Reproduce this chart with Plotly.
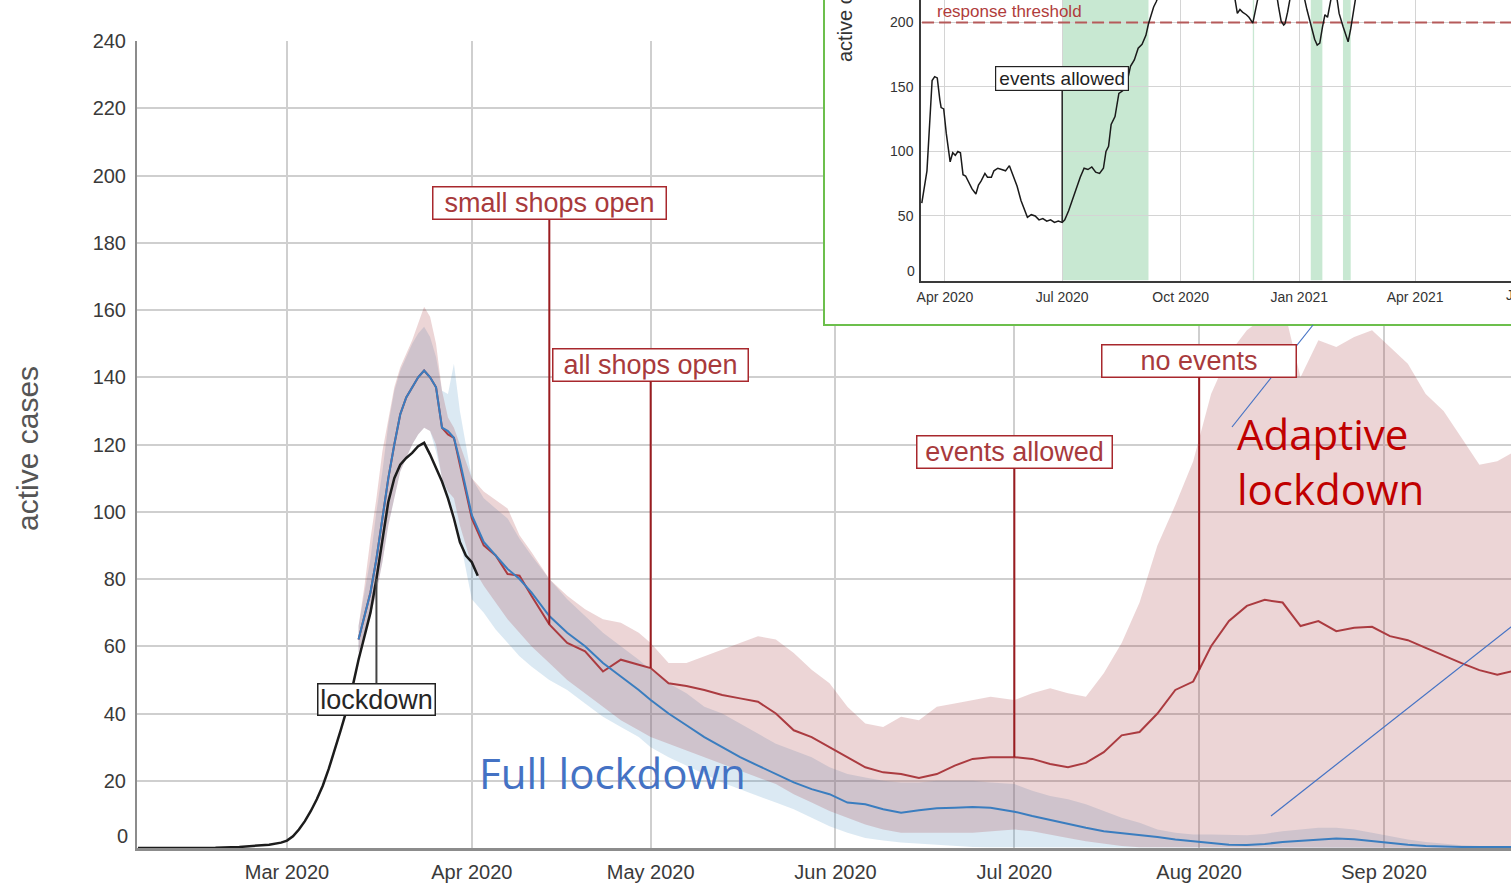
import numpy as np
import pandas as pd
import plotly.graph_objects as go

W, H = 1511, 888


def fx(px):
    return px / W


def fy(px):
    return 1 - px / H


# ---- observed active cases ----
obs_dates = ["2020-02-05", "2020-02-12", "2020-02-18", "2020-02-22", "2020-02-25", "2020-02-27", "2020-02-29"] + \
    [f"2020-03-{d:02d}" for d in range(1, 32)] + ["2020-04-01", "2020-04-02"]
obs_cases = [0, 0, 0.1, 0.3, 0.6, 1.0, 1.6,
             2.2, 3.5, 5.5, 8, 11, 14.5, 18.5, 23.5, 29, 35, 41, 48, 56, 63, 70, 80, 92, 103, 110, 114,
             116, 117.5, 119.5, 120.5, 117, 113, 109, 104, 98, 91, 87, 85, 81]

# ---- simulated scenarios (mean and band) ----
sim_dates = (
    [f"2020-03-{d:02d}" for d in range(13, 31)]
    + ["2020-04-01", "2020-04-03", "2020-04-05", "2020-04-07", "2020-04-09", "2020-04-11"]
    + ["2020-04-14", "2020-04-17", "2020-04-20", "2020-04-23", "2020-04-26", "2020-04-29"]
    + ["2020-05-01", "2020-05-04", "2020-05-07", "2020-05-10", "2020-05-13", "2020-05-16",
       "2020-05-19", "2020-05-22", "2020-05-25", "2020-05-28", "2020-05-31"]
    + ["2020-06-03", "2020-06-06", "2020-06-09", "2020-06-12", "2020-06-15", "2020-06-18",
       "2020-06-21", "2020-06-24", "2020-06-27"]
    + ["2020-07-01", "2020-07-04", "2020-07-07", "2020-07-10", "2020-07-13", "2020-07-16",
       "2020-07-19", "2020-07-22", "2020-07-25", "2020-07-28", "2020-07-31"]
    + ["2020-08-03", "2020-08-06", "2020-08-09", "2020-08-12", "2020-08-15", "2020-08-18",
       "2020-08-21", "2020-08-24", "2020-08-27", "2020-08-30"]
    + ["2020-09-02", "2020-09-05", "2020-09-08", "2020-09-11", "2020-09-14", "2020-09-17",
       "2020-09-20", "2020-09-23"]
)

adaptive_mean = (
    [62, 69, 76, 86, 98, 110, 120, 129, 134, 137, 140, 142, 140, 137, 125, 123, 122, 114]
    + [98, 90, 87, 81.5, 81, 75]
    + [66.5, 61, 58.5, 52.5, 56, 54.5]
    + [53.5, 49, 48.2, 47, 45.5, 44.5, 43.5, 40, 35, 33, 30]
    + [27, 24, 22.5, 22, 20.8, 22, 24.5, 26.5, 27]
    + [27, 26.5, 25, 24, 25.3, 28.5, 33.5, 34.5, 40, 47, 49.5]
    + [60, 67.5, 72, 73.8, 73, 66, 67.5, 64.5, 65.5, 65.8]
    + [63, 61.8, 59.5, 57.2, 55, 52.9, 51.5, 52.8]
)
adaptive_lo = (
    [58, 64, 69, 76, 85, 96, 104, 112, 116, 120, 123, 125, 124, 120, 110, 106, 104, 96]
    + [84, 78, 73, 68, 64, 60]
    + [55, 50, 46, 42, 38, 35]
    + [33, 31, 29, 27, 25, 23, 21, 19, 16, 13.5, 11]
    + [9, 7, 5.5, 4.5, 4.5, 4.5, 4.5, 4.5, 5]
    + [5.5, 5, 4, 3, 2, 1.2, 0.6, 0.2, 0, 0, 0]
    + [0, 0, 0, 0, 0, 0, 0, 0, 0, 0]
    + [0, 0, 0, 0, 0, 0, 0, 0]
)
adaptive_hi = (
    [66, 78, 92, 104, 118, 128, 137, 143, 147, 151, 156, 161, 158, 150, 136, 128, 125, 120]
    + [110, 106, 103.5, 101, 93, 88]
    + [80, 75, 71, 68, 67, 64]
    + [61, 55, 55, 57, 59, 61, 63, 62, 58, 53, 49]
    + [42, 37, 36, 39, 38, 42, 43, 44, 45]
    + [44, 46, 47.5, 46, 45, 52, 61, 73, 90, 102, 115]
    + [135, 147, 154, 158, 162, 140, 151, 149, 152, 154]
    + [149, 144, 135, 130, 122, 114, 115, 118]
)
full_mean = (
    [62, 69, 76, 86, 98, 110, 120, 129, 134, 137, 140, 142, 140, 137, 125, 124, 122, 115]
    + [99, 91, 87, 83, 80, 76]
    + [69, 64, 60, 55, 51, 47]
    + [44, 40, 36.5, 33, 30, 27, 24.5, 22, 19.5, 17.5, 16]
    + [13.5, 13, 11.5, 10.5, 11.2, 11.8, 12, 12.2, 12]
    + [10.8, 9.5, 8.3, 7.2, 6, 5, 4.5, 3.8, 3.3, 2.5, 2]
    + [1.5, 1, 0.9, 1.2, 1.8, 2.2, 2.5, 2.8, 2.6, 2]
    + [1.5, 1, 0.6, 0.4, 0.3, 0.3, 0.3, 0.3]
)
full_lo = (
    [58, 64, 69, 76, 85, 96, 104, 112, 116, 120, 123, 125, 124, 118, 110, 104, 100, 92]
    + [74, 70, 65, 61, 57, 54]
    + [50, 47, 43, 39, 36, 33]
    + [30, 27, 24.5, 22, 19.5, 17.5, 15.5, 13.5, 11.5, 9, 6.5]
    + [4.5, 3, 2.2, 1.6, 1.2, 0.9, 0.6, 0.3, 0.2]
    + [0.2, 0.2, 0.1, 0.1, 0, 0, 0, 0, 0, 0, 0]
    + [0, 0, 0, 0, 0, 0, 0, 0, 0, 0]
    + [0, 0, 0, 0, 0, 0, 0, 0]
)
full_hi = (
    [66, 76, 86, 100, 112, 126, 136, 142, 146, 150, 153, 155, 152, 146, 136, 135, 144, 130]
    + [110, 104, 101, 98, 92, 87]
    + [80, 74, 69, 64, 60, 56]
    + [53, 49, 46, 42, 40, 37, 34, 31, 29, 27, 24]
    + [22, 21, 20, 19.5, 19.5, 20, 20, 20, 19.5]
    + [19, 17, 15.5, 14.5, 13, 11, 9, 7.5, 5.5, 4.5, 4]
    + [4, 3.8, 3.8, 4.2, 5, 5.5, 6, 6, 5.5, 4.5]
    + [3.5, 2.5, 1.8, 1.2, 0.8, 0.6, 0.5, 0.5]
)

# ---- policy events on the adaptive run ----
lockdown_date = "2020-03-16"
event_labels = ["small shops open", "all shops open", "events allowed", "no events"]
event_dates = ["2020-04-14", "2020-05-01", "2020-07-01", "2020-08-01"]

# ---- long adaptive run (inset) ----
long_dates = [
    "2020-03-14", "2020-03-16", "2020-03-18", "2020-03-20", "2020-03-22", "2020-03-24", "2020-03-26",
    "2020-03-28", "2020-03-29", "2020-03-31",
    "2020-04-02", "2020-04-05", "2020-04-07", "2020-04-09", "2020-04-11", "2020-04-13", "2020-04-15",
    "2020-04-17", "2020-04-20", "2020-04-22", "2020-04-25", "2020-04-27", "2020-04-29",
    "2020-05-02", "2020-05-04", "2020-05-07", "2020-05-09", "2020-05-12", "2020-05-15", "2020-05-18",
    "2020-05-21", "2020-05-24", "2020-05-27", "2020-05-30",
    "2020-06-02", "2020-06-04", "2020-06-07", "2020-06-10", "2020-06-13", "2020-06-16", "2020-06-19",
    "2020-06-22", "2020-06-25", "2020-06-28",
    "2020-07-01", "2020-07-03", "2020-07-06", "2020-07-09", "2020-07-12", "2020-07-15", "2020-07-18",
    "2020-07-21", "2020-07-24", "2020-07-27", "2020-07-30",
    "2020-08-02", "2020-08-04", "2020-08-06", "2020-08-08", "2020-08-11", "2020-08-14", "2020-08-17",
    "2020-08-20", "2020-08-23", "2020-08-26", "2020-08-29",
    "2020-09-01", "2020-09-04", "2020-09-06", "2020-09-08", "2020-09-10", "2020-09-12", "2020-09-15",
    "2020-10-01", "2020-10-20", "2020-11-05", "2020-11-12", "2020-11-14", "2020-11-16", "2020-11-18",
    "2020-11-21", "2020-11-23", "2020-11-26", "2020-11-28", "2020-11-30",
    "2020-12-05", "2020-12-14", "2020-12-16", "2020-12-18", "2020-12-20", "2020-12-21", "2020-12-23",
    "2020-12-25",
    "2021-01-01", "2021-01-05", "2021-01-07", "2021-01-09", "2021-01-11", "2021-01-13", "2021-01-15",
    "2021-01-17", "2021-01-19", "2021-01-21", "2021-01-23", "2021-01-25", "2021-01-27", "2021-01-30",
    "2021-02-01", "2021-02-04", "2021-02-06", "2021-02-08", "2021-02-10", "2021-02-12", "2021-02-14",
    "2021-02-20", "2021-03-10",
]
long_cases = [
    60, 72, 85, 120, 155, 158, 157, 140, 134, 133,
    114, 92, 99, 97, 100, 99, 82, 81, 75, 71, 67, 74, 77,
    83, 80, 80, 85, 87, 86, 85, 89, 81, 73, 62,
    55, 49, 51, 50, 47, 48, 46, 47, 45, 46,
    45, 47, 54, 63, 72, 80, 87, 86, 88, 84, 83,
    87, 100, 104, 121, 127, 145, 147, 152, 166, 171, 180,
    183, 190, 199, 205, 212, 216, 224,
    265, 255, 232, 219, 207, 210, 208, 206, 204, 199.5, 210, 219,
    236, 225, 212, 201, 198, 199, 208, 219,
    232, 219, 210, 202, 194, 187, 182.5, 184, 196, 206, 204, 216, 225, 221,
    207, 197, 191, 185, 195, 207, 220, 240, 250,
]
response_threshold = 200
events_allowed_start = ["2020-07-01", "2020-11-26", "2021-01-10", "2021-02-04"]
events_allowed_end = ["2020-09-06", "2020-11-27", "2021-01-19", "2021-02-10"]
inset_event_date = "2020-07-01"


def value_at(dates, values, when):
    t = pd.to_datetime(dates).astype("int64")
    return float(np.interp(pd.Timestamp(when).value, t, values))


RED_LINE = "#ab3b40"
BLUE_LINE = "#3a7dbf"
RED_FILL = "rgba(160,45,50,0.2)"
BLUE_FILL = "rgba(75,145,195,0.2)"
GRID = "#cfcfcf"

fig = go.Figure()


def band(lo, hi, color):
    return go.Scatter(
        x=list(sim_dates) + list(sim_dates[::-1]),
        y=list(hi) + list(lo[::-1]),
        fill="toself", fillcolor=color, line=dict(width=0),
        mode="lines", hoverinfo="skip", showlegend=False,
    )


fig.add_trace(band(full_lo, full_hi, BLUE_FILL))
fig.add_trace(band(adaptive_lo, adaptive_hi, RED_FILL))
fig.add_trace(go.Scatter(x=sim_dates, y=adaptive_mean, mode="lines",
                         line=dict(color=RED_LINE, width=2), showlegend=False))
fig.add_trace(go.Scatter(x=sim_dates, y=full_mean, mode="lines",
                         line=dict(color=BLUE_LINE, width=2), showlegend=False))
fig.add_trace(go.Scatter(x=obs_dates, y=obs_cases, mode="lines",
                         line=dict(color="#1c1c1c", width=2.5), showlegend=False))

# blank panel that carries the inset's white backing
fig.add_trace(go.Scatter(x=[], y=[], xaxis="x2", yaxis="y2", showlegend=False, hoverinfo="skip"))

# inset traces
fig.add_trace(go.Scatter(x=["2020-03-01", "2021-12-31"], y=[response_threshold] * 2,
                         xaxis="x3", yaxis="y3", mode="lines",
                         line=dict(color="#b55a5a", width=2, dash="12px,5px"), showlegend=False))
fig.add_trace(go.Scatter(x=long_dates, y=long_cases, xaxis="x3", yaxis="y3", mode="lines",
                         line=dict(color="#1a1a1a", width=1.5), showlegend=False))

shapes = [
    dict(type="rect", xref="x2", yref="y2", x0=0, x1=1, y0=0, y1=1,
         fillcolor="white", line=dict(width=0), layer="below"),
]
for s, e in zip(events_allowed_start, events_allowed_end):
    shapes.append(dict(type="rect", xref="x3", yref="y3", x0=s, x1=e, y0=0, y1=400,
                       fillcolor="rgba(50,170,90,0.27)", line=dict(width=0), layer="below"))
shapes += [
    dict(type="rect", xref="paper", yref="paper", x0=fx(824), x1=1.02, y0=fy(325), y1=1.02,
         line=dict(color="#6cbf4c", width=2), fillcolor="rgba(0,0,0,0)", layer="above"),
    dict(type="line", xref="paper", yref="paper", x0=fx(1232), y0=fy(427), x1=fx(1313), y1=fy(325),
         line=dict(color="#4472c4", width=1.2), layer="above"),
    dict(type="line", xref="paper", yref="paper", x0=fx(1271), y0=fy(816), x1=fx(1530), y1=fy(612),
         line=dict(color="#4472c4", width=1.2), layer="above"),
]

annotations = []

# event call-outs on the adaptive curve
box_w = [230, 192, 192, 191]
box_ay = [-421, -303, -305, -309]
for lab, d, bw, ay in zip(event_labels, event_dates, box_w, box_ay):
    annotations.append(dict(
        x=d, y=value_at(sim_dates, adaptive_mean, d), xref="x", yref="y",
        text=lab, showarrow=True, arrowhead=0, arrowwidth=2, arrowcolor="#9b1c20",
        ax=0, ay=ay, standoff=0,
        font=dict(family="Liberation Sans", size=27, color="#a83a3c"),
        bgcolor="white", bordercolor="#a8282d", borderwidth=1.5, borderpad=1,
        width=bw, height=29,
    ))
annotations.append(dict(
    x=lockdown_date, y=value_at(obs_dates, obs_cases, lockdown_date), xref="x", yref="y",
    text="lockdown", showarrow=True, arrowhead=0, arrowwidth=2, arrowcolor="#444444",
    ax=0, ay=120, standoff=0,
    font=dict(family="Liberation Sans", size=27, color="#262626"),
    bgcolor="white", bordercolor="#222222", borderwidth=1.5, borderpad=1,
    width=114, height=28,
))
annotations.append(dict(
    x=inset_event_date, y=value_at(long_dates, long_cases, inset_event_date), xref="x3", yref="y3",
    text="events allowed", showarrow=True, arrowhead=0, arrowwidth=1.5, arrowcolor="#222222",
    ax=0, ay=-144, standoff=0,
    font=dict(family="Liberation Sans", size=19, color="#1f1f1f"),
    bgcolor="white", bordercolor="#222222", borderwidth=1.2, borderpad=1,
    width=130, height=21,
))


def label(px, py, text, size, color, family="Liberation Sans", xanchor="center",
          yanchor="middle", **kw):
    return dict(x=fx(px), y=fy(py), xref="paper", yref="paper", text=text,
                xanchor=xanchor, yanchor=yanchor, showarrow=False,
                font=dict(family=family, size=size, color=color), **kw)


# axis titles, texts and stray labels
annotations += [
    label(27, 449, "active cases", 30, "#555555", textangle=-90),
    label(130, 836, "0", 20, "#3a3a3a", xanchor="right"),
    label(845, 63, "active cases", 20, "#333333", yanchor="bottom", textangle=-90, borderpad=0),
    label(917, 271, "0", 14, "#333333", xanchor="right"),
    label(1532, 295, "Jul 2021", 14, "#333333"),
    label(935, 12, "response threshold", 17, "#b03c3c", xanchor="left"),
    label(477, 772, "Full lockdown", 42, "#4472c4", family="Open Sans", xanchor="left"),
    label(1235, 461, "Adaptive<br>lockdown", 42, "#c00000", family="Open Sans",
          xanchor="left", align="left"),
]

axis_common = dict(automargin=False, zeroline=False, fixedrange=True, ticks="")

fig.update_layout(
    template="none",
    width=W, height=H, autosize=False,
    margin=dict(l=0, r=0, t=0, b=0, pad=0),
    paper_bgcolor="white", plot_bgcolor="white",
    showlegend=False, hovermode=False,
    font=dict(family="Liberation Sans", color="#333333"),
    shapes=shapes, annotations=annotations,
    xaxis=dict(
        domain=[fx(137), 1], anchor="y", type="date",
        range=["2020-02-04 20:10", "2020-09-22 07:20"],
        tick0="2020-01-01", dtick="M1", tickformat="%b %Y",
        showgrid=True, gridcolor=GRID, gridwidth=2,
        showline=True, linecolor="#8c8c8c", linewidth=2.5,
        ticklabelstandoff=4,
        tickfont=dict(size=20, color="#3a3a3a"), **axis_common,
    ),
    yaxis=dict(
        domain=[fy(848), fy(41)], anchor="x", range=[0, 240],
        tickvals=list(range(20, 241, 20)),
        showgrid=True, gridcolor=GRID, gridwidth=2,
        showline=True, linecolor="#8c8c8c", linewidth=2,
        ticklabelstandoff=5,
        tickfont=dict(size=20, color="#3a3a3a"), **axis_common,
    ),
    xaxis2=dict(domain=[fx(824), 1], anchor="y2", range=[0, 1], visible=False, **axis_common),
    yaxis2=dict(domain=[fy(325), 1], anchor="x2", range=[0, 1], visible=False, **axis_common),
    xaxis3=dict(
        domain=[fx(921), 1], anchor="y3", type="date",
        range=["2020-03-13 09:00", "2021-06-14 11:00"],
        tick0="2020-01-01", dtick="M3", tickformat="%b %Y",
        showgrid=True, gridcolor="#d4d4d4", gridwidth=1.2,
        showline=True, linecolor="#3a3a3a", linewidth=1.5,
        ticklabelstandoff=3,
        tickfont=dict(size=14, color="#333333"), **axis_common,
    ),
    yaxis3=dict(
        domain=[fy(280.5), 1], anchor="x3", range=[0, 217.4],
        tickvals=[50, 100, 150, 200],
        showgrid=True, gridcolor="#d4d4d4", gridwidth=1.2,
        showline=True, linecolor="#3a3a3a", linewidth=1.5,
        ticklabelstandoff=3,
        tickfont=dict(size=14, color="#333333"), **axis_common,
    ),
)

fig.write_html("out.html", config={"displayModeBar": False})
